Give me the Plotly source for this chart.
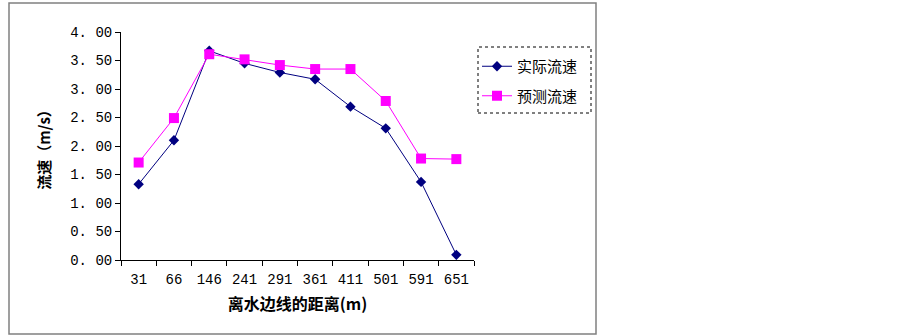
import plotly.graph_objects as go

categories = ["31", "66", "146", "241", "291", "361", "411", "501", "591", "651"]
actual = [1.33, 2.10, 3.67, 3.45, 3.29, 3.17, 2.69, 2.31, 1.37, 0.09]
predicted = [1.71, 2.49, 3.61, 3.52, 3.42, 3.35, 3.35, 2.79, 1.78, 1.77]
y_ticks = [0, 0.5, 1, 1.5, 2, 2.5, 3, 3.5, 4]
y_tick_text = ["0. 00", "0. 50", "1. 00", "1. 50", "2. 00", "2. 50", "3. 00", "3. 50", "4. 00"]

tick_font = dict(family="Liberation Mono, DejaVu Sans Mono", size=14, color="black")
cjk = "Noto Sans CJK SC"

fig = go.Figure()
fig.add_trace(go.Scatter(
    x=categories, y=actual, name="实际流速", mode="lines+markers", legendgroup="a",
    line=dict(color="#000080", width=1),
    marker=dict(symbol="diamond", size=8, color="#000080"),
))
fig.add_trace(go.Scatter(
    x=categories, y=predicted, name="预测流速", mode="lines+markers", legendgroup="b",
    line=dict(color="#FF00FF", width=1),
    marker=dict(symbol="square", size=10, color="#FF00FF"),
))

L, R, T, B = 121, 474, 32, 260
W, H = 902, 336
pw, ph = R - L, B - T

def px(x):
    return (x - L) / pw

def py(y):
    return (B - y) / ph

fig.update_layout(
    width=W, height=H,
    margin=dict(l=L, r=W - R, t=T, b=H - B, pad=0),
    paper_bgcolor="white", plot_bgcolor="white",
    showlegend=True,
    legend=dict(
        x=px(477), y=py(50), xanchor="left", yanchor="top",
        font=dict(family=cjk, size=15, color="black"),
        bgcolor="rgba(0,0,0,0)", borderwidth=0,
        tracegroupgap=7, itemwidth=30,
    ),
    xaxis=dict(
        type="category", range=[-0.5, 9.5],
        showline=True, linecolor="black", linewidth=1,
        ticks="outside", ticklen=5, tickcolor="black", tickson="boundaries",
        showgrid=False, zeroline=False,
        tickfont=tick_font, ticklabelstandoff=6,
        title=dict(text="离水边线的距离(m)", font=dict(family=cjk, size=16, color="black", weight="bold"), standoff=12),
    ),
    yaxis=dict(
        range=[0, 4], tickvals=y_ticks, ticktext=y_tick_text,
        showline=True, linecolor="black", linewidth=1,
        ticks="outside", ticklen=5, tickcolor="black",
        showgrid=False, zeroline=False,
        tickfont=tick_font,
        title=dict(text="流速（m/s）", font=dict(family=cjk, size=15, color="black", weight="bold"), standoff=15),
    ),
    shapes=[
        dict(type="rect", xref="paper", yref="paper",
             x0=px(9), x1=px(596), y0=py(334), y1=py(3),
             line=dict(color="#808080", width=1.5), fillcolor="rgba(0,0,0,0)", layer="below"),
        dict(type="rect", xref="paper", yref="paper",
             x0=px(478), x1=px(591), y0=py(113), y1=py(47),
             line=dict(color="black", width=1, dash="dot"), fillcolor="rgba(0,0,0,0)"),
    ],
)

fig.write_html("out.html", config={"displayModeBar": False},
               post_script="document.body.style.margin='0';document.body.style.padding='0';")
